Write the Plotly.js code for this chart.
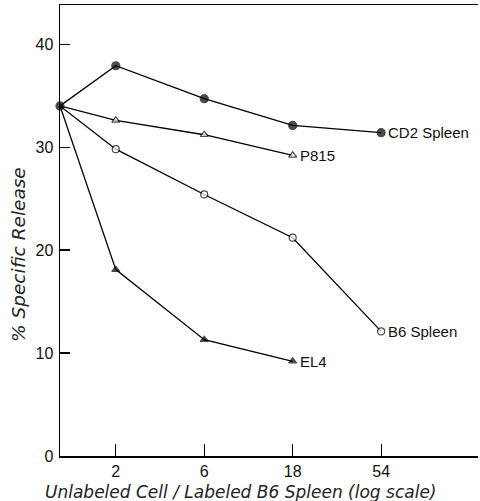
<!DOCTYPE html>
<html><head><meta charset="utf-8">
<script src="https://cdn.plot.ly/plotly-3.0.1.min.js"></script>
<style>html,body{margin:0;padding:0;background:#fff}#c{width:480px;height:501px}</style>
</head><body><div id="c"></div>
<script>
var ratio = [1, 2, 6, 18, 54];
var ratio3 = [1, 2, 6, 18];
var cd2 = [34, 37.9, 34.7, 32.1, 31.4];
var p815 = [34, 32.6, 31.2, 29.2];
var b6 = [34, 29.8, 25.4, 21.2, 12.1];
var el4 = [34, 18.1, 11.3, 9.2];
var xTicks = [2, 6, 18, 54];
var yTicks = [0, 10, 20, 30, 40];
var labels = ['CD2 Spleen', 'P815', 'B6 Spleen', 'EL4'];
var xTitle = 'Unlabeled Cell / Labeled B6 Spleen (log scale)';
var yTitle = '% Specific Release';

var lineS = {color: '#000', width: 1.3};
function tr(x, y, sym, fill, size) {
  var sizes = x.map(function(_, i){ return i === 0 ? 0 : size; });
  return {x: x, y: y, type: 'scatter', mode: 'lines+markers', line: lineS,
    marker: {symbol: sym, size: sizes, color: fill, line: {color: '#000', width: 1.2}},
    hoverinfo: 'none', showlegend: false, cliponaxis: false};
}
var data = [
  tr(ratio3, p815, 'triangle-up', '#fff', 7),
  tr(ratio, b6, 'circle', '#fff', 7),
  tr(ratio3, el4, 'triangle-up', '#000', 7),
  tr(ratio, cd2, 'circle', '#000', 8)
];
data[3].marker.size = ratio.map(function(){ return 8; });

var font = {family: 'Liberation Sans, Arial, sans-serif', color: '#111', size: 15};
var ann = [
  {x: Math.log10(54), y: cd2[4], text: labels[0], xanchor: 'left', xshift: 5},
  {x: Math.log10(18), y: p815[3], text: labels[1], xanchor: 'left', xshift: 5},
  {x: Math.log10(54), y: b6[4], text: labels[2], xanchor: 'left', xshift: 5},
  {x: Math.log10(18), y: el4[3], text: labels[3], xanchor: 'left', xshift: 5}
].map(function(a){ a.xref='x'; a.yref='y'; a.showarrow=false; a.yanchor='middle'; a.font=font; return a; });

var titleFont = 'DejaVu Sans, Verdana, sans-serif';
ann.push({xref: 'paper', yref: 'paper', x: (240 - 60) / 418, y: (501 - 492 - 45) / 451,
  xanchor: 'center', yanchor: 'middle', showarrow: false, text: xTitle,
  font: {family: titleFont, size: 17, style: 'italic', color: '#222'}});
ann.push({xref: 'paper', yref: 'paper', x: (18 - 60) / 418, y: (501 - 255 - 45) / 451,
  xanchor: 'center', yanchor: 'middle', showarrow: false, text: yTitle, textangle: -90,
  font: {family: titleFont, size: 18.5, style: 'italic', color: '#222'}});

var layout = {
  width: 480, height: 501,
  margin: {l: 60, r: 2, t: 5, b: 45},
  paper_bgcolor: '#fff', plot_bgcolor: '#fff',
  font: font,
  xaxis: {type: 'log', range: [0, 2.255], tickvals: xTicks, ticktext: xTicks.map(String),
    ticks: 'inside', ticklen: 12, tickwidth: 1.2, tickcolor: '#000',
    showline: true, linecolor: '#000', linewidth: 1.5, mirror: true,
    showgrid: false, zeroline: false, tickfont: {size: 16}},
  yaxis: {range: [0, 43.8], tickvals: yTicks, ticks: 'inside', ticklen: 10, tickwidth: 1.2, tickcolor: '#000',
    showline: true, linecolor: '#000', linewidth: 1.5, showgrid: false, zeroline: false,
    tickfont: {size: 16}, ticklabelstandoff: 2},
  annotations: ann
};
Plotly.newPlot('c', data, layout, {displayModeBar: false, staticPlot: true});
</script></body></html>
